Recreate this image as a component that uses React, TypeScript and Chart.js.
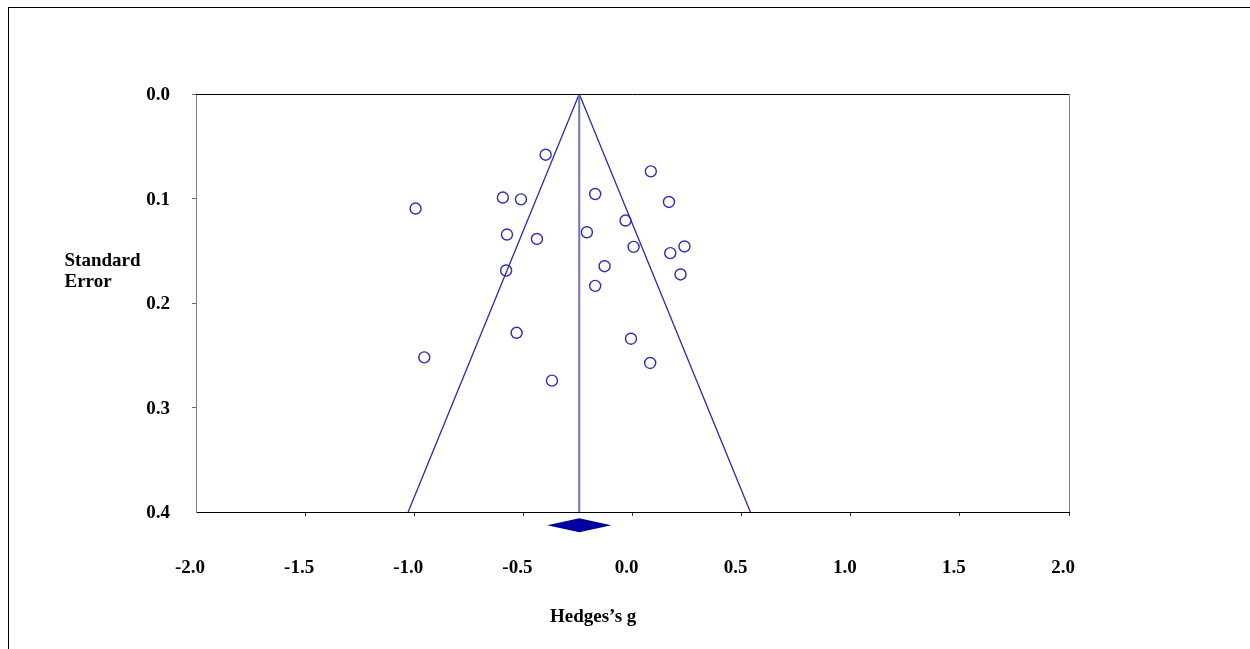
import React, { useEffect, useRef } from "react";
import { Chart, registerables } from "chart.js";

Chart.register(...registerables);

// Study effect sizes (Hedges's g) and standard errors
const effectSizes = [
  -0.398, 0.084, -0.994, -0.594, -0.511, -0.171, 0.167, -0.032, -0.575, -0.438,
  -0.209, 0.005, 0.238, 0.173, -0.128, -0.579, 0.22, -0.171, -0.531, -0.007,
  -0.954, 0.081, -0.369,
];
const standardErrors = [
  0.0581, 0.074, 0.1096, 0.0991, 0.1008, 0.0957, 0.1033, 0.1211, 0.1345, 0.1387,
  0.1323, 0.1463, 0.1459, 0.1523, 0.1648, 0.1689, 0.1727, 0.1836, 0.2285, 0.2342,
  0.252, 0.2574, 0.2743,
];

// Summary effect and its confidence interval
const summaryEffect = -0.244;
const summaryCILow = -0.391;
const summaryCIHigh = -0.097;
const summaryRowSE = 0.4126;

// Funnel (pseudo 95% limits)
const funnelX = [-1.028, -0.244, 0.54];
const funnelY = [0.4, 0.0, 0.4];
const centerX = [-0.244, -0.244];
const centerY = [0.0, 0.4];

// Axes
const xRange = [-2, 2];
const xStep = 0.5;
const yRange = [0, 0.4];
const yStep = 0.1;

const xTitle = "Hedges\u2019s g";
const yTitleLines = ["Standard", "Error"];

const FONT_FAMILY = '"Liberation Serif", "Times New Roman", Times, serif';

const extrasPlugin = {
  id: "funnelExtras",
  afterDatasetsDraw(chart: any) {
    const { ctx, chartArea: a, scales } = chart;
    const xs = scales.x;
    const ys = scales.y;
    // summary diamond
    const xl = xs.getPixelForValue(summaryCILow);
    const xc = xs.getPixelForValue(summaryEffect);
    const xr = xs.getPixelForValue(summaryCIHigh);
    const yc = ys.getPixelForValue(summaryRowSE);
    const hh = 7;
    ctx.save();
    ctx.fillStyle = "#0000a0";
    ctx.beginPath();
    ctx.moveTo(xl, yc);
    ctx.lineTo(xc, yc - hh);
    ctx.lineTo(xr, yc);
    ctx.lineTo(xc, yc + hh);
    ctx.closePath();
    ctx.fill();
    // top and right frame of plot area
    ctx.lineWidth = 1;
    ctx.strokeStyle = "#000";
    ctx.beginPath();
    ctx.moveTo(Math.round(a.left), Math.round(a.top) + 0.5);
    ctx.lineTo(Math.round(a.right), Math.round(a.top) + 0.5);
    ctx.stroke();
    ctx.strokeStyle = "#808080";
    ctx.beginPath();
    ctx.moveTo(Math.round(a.right) + 0.5, Math.round(a.top));
    ctx.lineTo(Math.round(a.right) + 0.5, Math.round(a.bottom));
    ctx.stroke();
    ctx.restore();
  },
};

export default function App() {
  const canvasRef = useRef<HTMLCanvasElement | null>(null);

  useEffect(() => {
    if (!canvasRef.current) return;
    const studies = effectSizes.map((g, i) => ({ x: g, y: standardErrors[i] }));
    const funnel = funnelX.map((x, i) => ({ x, y: funnelY[i] }));
    const center = centerX.map((x, i) => ({ x, y: centerY[i] }));
    const tickFont = { family: FONT_FAMILY, size: 19, weight: "bold" as const };

    const chart = new Chart(canvasRef.current, {
      type: "scatter",
      data: {
        datasets: [
          {
            type: "line",
            data: center,
            borderColor: "#7070cc",
            borderWidth: 2,
            pointRadius: 0,
            fill: false,
            tension: 0,
          } as any,
          {
            type: "line",
            data: funnel,
            borderColor: "#2a2ab2",
            borderWidth: 1.3,
            pointRadius: 0,
            fill: false,
            tension: 0,
          } as any,
          {
            type: "scatter",
            data: studies,
            pointStyle: "circle",
            pointRadius: 5.5,
            pointBorderWidth: 1.4,
            borderColor: "#2d2db2",
            backgroundColor: "rgba(255,255,255,0)",
          } as any,
        ],
      },
      options: {
        responsive: false,
        animation: false,
        devicePixelRatio: 1,
        layout: { padding: { left: 0, top: 94, right: 181, bottom: 0 } },
        plugins: {
          legend: { display: false },
          tooltip: { enabled: false },
        },
        scales: {
          x: {
            type: "linear",
            position: "bottom",
            min: xRange[0],
            max: xRange[1],
            ticks: {
              stepSize: xStep,
              callback: (v: any) => Number(v).toFixed(1),
              font: tickFont,
              color: "#000",
              padding: 41,
              labelOffset: -6,
              maxRotation: 0,
              autoSkip: false,
            },
            grid: {
              drawOnChartArea: false,
              tickLength: 4,
              color: (c: any) =>
                c.index === 0 || c.value === xRange[1] ? "rgba(0,0,0,0)" : "#333",
            },
            border: { display: true, color: "#000", width: 1 },
            afterFit: (s: any) => {
              s.height = 137;
            },
          },
          y: {
            type: "linear",
            position: "left",
            min: yRange[0],
            max: yRange[1],
            reverse: true,
            ticks: {
              stepSize: yStep,
              callback: (v: any) => Number(v).toFixed(1),
              font: tickFont,
              color: "#000",
              padding: 22,
              labelOffset: 1.5,
              autoSkip: false,
            },
            grid: {
              drawOnChartArea: false,
              tickLength: 4,
              color: (c: any) =>
                c.index === 0 || Math.abs(c.value - yRange[1]) < 1e-9 ? "rgba(0,0,0,0)" : "#666",
            },
            border: { display: true, color: "#808080", width: 1 },
            afterFit: (s: any) => {
              s.width = 196;
            },
          },
        },
      },
      plugins: [extrasPlugin],
    } as any);
    return () => chart.destroy();
  }, []);

  const titleStyle: React.CSSProperties = {
    position: "absolute",
    fontFamily: FONT_FAMILY,
    fontWeight: "bold",
    fontSize: 19,
    lineHeight: "21px",
    color: "#000",
    whiteSpace: "nowrap",
  };

  return (
    <div
      style={{
        position: "fixed",
        left: 0,
        top: 0,
        width: 1250,
        height: 649,
        overflow: "hidden",
        background: "#fff",
      }}
    >
      <canvas
        ref={canvasRef}
        width={1250}
        height={649}
        style={{ position: "absolute", left: 0, top: 0, width: 1250, height: 649 }}
      />
      <div
        style={{
          position: "absolute",
          left: 8,
          top: 7,
          width: 1300,
          height: 700,
          borderLeft: "1px solid #000",
          borderTop: "1px solid #000",
          pointerEvents: "none",
        }}
      />
      <div style={{ ...titleStyle, left: 64.5, top: 248.5 }}>
        {yTitleLines.map((t) => (
          <div key={t}>{t}</div>
        ))}
      </div>
      <div style={{ ...titleStyle, left: 550, top: 605 }}>{xTitle}</div>
    </div>
  );
}
